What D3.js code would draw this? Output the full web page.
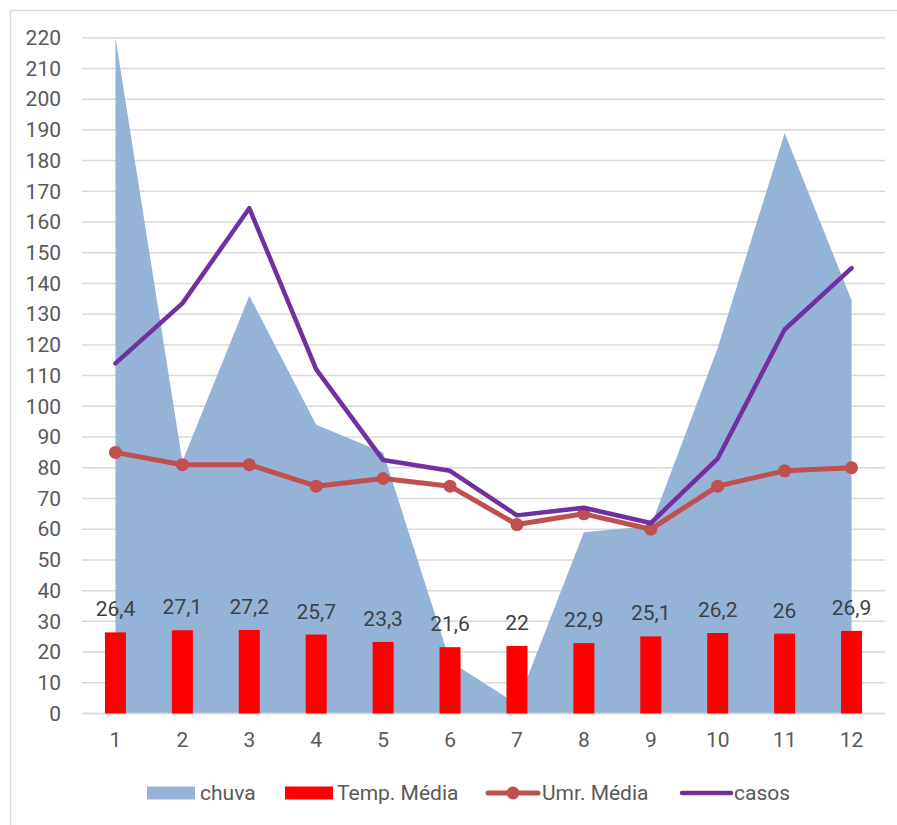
<!DOCTYPE html>
<html>
<head>
<meta charset="utf-8">
<script src="https://cdn.jsdelivr.net/npm/d3@7/dist/d3.min.js"></script>
<style>
  html, body { margin: 0; padding: 0; background: #fff; }
  svg { display: block; }
  text { font-family: Roboto, "Open Sans", sans-serif; }
</style>
</head>
<body>
<svg id="chart" width="897" height="825"></svg>
<script>
// Monthly series
const months = [1, 2, 3, 4, 5, 6, 7, 8, 9, 10, 11, 12];
const chuva = [220, 82, 136, 94, 85, 17, 3, 59, 61, 119, 189, 134.5];
const tempMedia = [26.4, 27.1, 27.2, 25.7, 23.3, 21.6, 22, 22.9, 25.1, 26.2, 26, 26.9];
const umrMedia = [85, 81, 81, 74, 76.5, 74, 61.5, 65, 60, 74, 79, 80];
const casos = [114, 133.5, 164.5, 112, 82.5, 79, 64.5, 67, 62, 83, 125, 145];
const yTicks = d3.range(0, 221, 10);
const seriesNames = ["chuva", "Temp. Média", "Umr. Média", "casos"];

const colors = {
  chuva: "#95B3D7",
  temp: "#FF0000",
  umr: "#C0504D",
  casos: "#7030A0",
  grid: "#D9D9D9",
  tick: "#595959",
  label: "#404040"
};
const fontSize = "21px";
const fontFamily = "Roboto, 'Open Sans', sans-serif";

const svg = d3.select("#chart");

// Outer chart frame
svg.append("rect")
  .attr("x", 10.5).attr("y", 10.5)
  .attr("width", 900).attr("height", 900)
  .attr("fill", "#fff")
  .attr("stroke", colors.grid)
  .attr("stroke-width", 1.5);

const plot = { left: 82, right: 885, top: 37.7, bottom: 713.5 };

const x = d3.scaleBand().domain(months).range([plot.left, plot.right]).padding(0);
const xc = d => x(d) + x.bandwidth() / 2;
const y = d3.scaleLinear().domain([0, 220]).range([plot.bottom, plot.top]);

// Horizontal gridlines
svg.append("g")
  .selectAll("line")
  .data(yTicks)
  .join("line")
  .attr("x1", plot.left).attr("x2", plot.right)
  .attr("y1", d => y(d)).attr("y2", d => y(d))
  .attr("stroke", colors.grid)
  .attr("stroke-width", 1.5);

// Y axis labels
const yAxis = d3.axisLeft(y).tickValues(yTicks).tickSize(0).tickPadding(0).tickFormat(d3.format("d"));
svg.append("g")
  .attr("transform", `translate(61,0)`)
  .call(yAxis)
  .call(g => g.select(".domain").remove())
  .call(g => g.selectAll("text")
    .attr("fill", colors.tick)
    .style("font-size", fontSize)
    .style("font-family", fontFamily));

// X axis labels
const xAxis = d3.axisBottom(x).tickSize(0).tickPadding(0);
svg.append("g")
  .attr("transform", `translate(0,732)`)
  .call(xAxis)
  .call(g => g.select(".domain").remove())
  .call(g => g.selectAll("text")
    .attr("fill", colors.tick)
    .style("font-size", fontSize)
    .style("font-family", fontFamily));

// Rainfall area
const area = d3.area()
  .x((d, i) => xc(months[i]))
  .y0(y(0))
  .y1(d => y(d));
svg.append("path")
  .datum(chuva)
  .attr("d", area)
  .attr("fill", colors.chuva);

// Bottom axis line
svg.append("line")
  .attr("x1", plot.left).attr("x2", plot.right)
  .attr("y1", y(0)).attr("y2", y(0))
  .attr("stroke", colors.grid)
  .attr("stroke-width", 1.5);

// Temperature bars
const barW = x.bandwidth() * 0.314;
svg.append("g")
  .selectAll("rect")
  .data(tempMedia)
  .join("rect")
  .attr("x", (d, i) => xc(months[i]) - barW / 2)
  .attr("y", d => y(d))
  .attr("width", barW)
  .attr("height", d => y(0) - y(d))
  .attr("fill", colors.temp);

// Temperature value labels
svg.append("g")
  .selectAll("text")
  .data(tempMedia)
  .join("text")
  .attr("x", (d, i) => xc(months[i]))
  .attr("y", d => y(d) - 16)
  .attr("text-anchor", "middle")
  .attr("fill", colors.label)
  .style("font-size", fontSize)
  .text(d => String(d).replace(".", ","));

// Humidity line with markers
const line = d3.line().x((d, i) => xc(months[i])).y(d => y(d));
svg.append("path")
  .datum(umrMedia)
  .attr("d", line)
  .attr("fill", "none")
  .attr("stroke", colors.umr)
  .attr("stroke-width", 5)
  .attr("stroke-linejoin", "round")
  .attr("stroke-linecap", "round");
svg.append("g")
  .selectAll("circle")
  .data(umrMedia)
  .join("circle")
  .attr("cx", (d, i) => xc(months[i]))
  .attr("cy", d => y(d))
  .attr("r", 6.5)
  .attr("fill", colors.umr);

// Cases line
svg.append("path")
  .datum(casos)
  .attr("d", line)
  .attr("fill", "none")
  .attr("stroke", colors.casos)
  .attr("stroke-width", 4.5)
  .attr("stroke-linejoin", "round")
  .attr("stroke-linecap", "round");

// Legend
const legendY = 793;
const legend = svg.append("g").style("font-size", fontSize);
// chuva
legend.append("rect").attr("x", 147).attr("y", legendY - 6.5).attr("width", 48).attr("height", 13).attr("fill", colors.chuva);
legend.append("text").attr("x", 200).attr("y", legendY).attr("dy", "0.35em").attr("fill", colors.tick).text(seriesNames[0]);
// Temp
legend.append("rect").attr("x", 285).attr("y", legendY - 6.5).attr("width", 48).attr("height", 13).attr("fill", colors.temp);
legend.append("text").attr("x", 337).attr("y", legendY).attr("dy", "0.35em").attr("fill", colors.tick).text(seriesNames[1]);
// Umr
legend.append("line").attr("x1", 488).attr("x2", 538).attr("y1", legendY).attr("y2", legendY)
  .attr("stroke", colors.umr).attr("stroke-width", 5).attr("stroke-linecap", "round");
legend.append("circle").attr("cx", 513).attr("cy", legendY).attr("r", 6.5).attr("fill", colors.umr);
legend.append("text").attr("x", 542).attr("y", legendY).attr("dy", "0.35em").attr("fill", colors.tick).text(seriesNames[2]);
// casos
legend.append("line").attr("x1", 682).attr("x2", 731).attr("y1", legendY).attr("y2", legendY)
  .attr("stroke", colors.casos).attr("stroke-width", 4.5).attr("stroke-linecap", "round");
legend.append("text").attr("x", 734).attr("y", legendY).attr("dy", "0.35em").attr("fill", colors.tick).text(seriesNames[3]);
</script>
</body>
</html>
